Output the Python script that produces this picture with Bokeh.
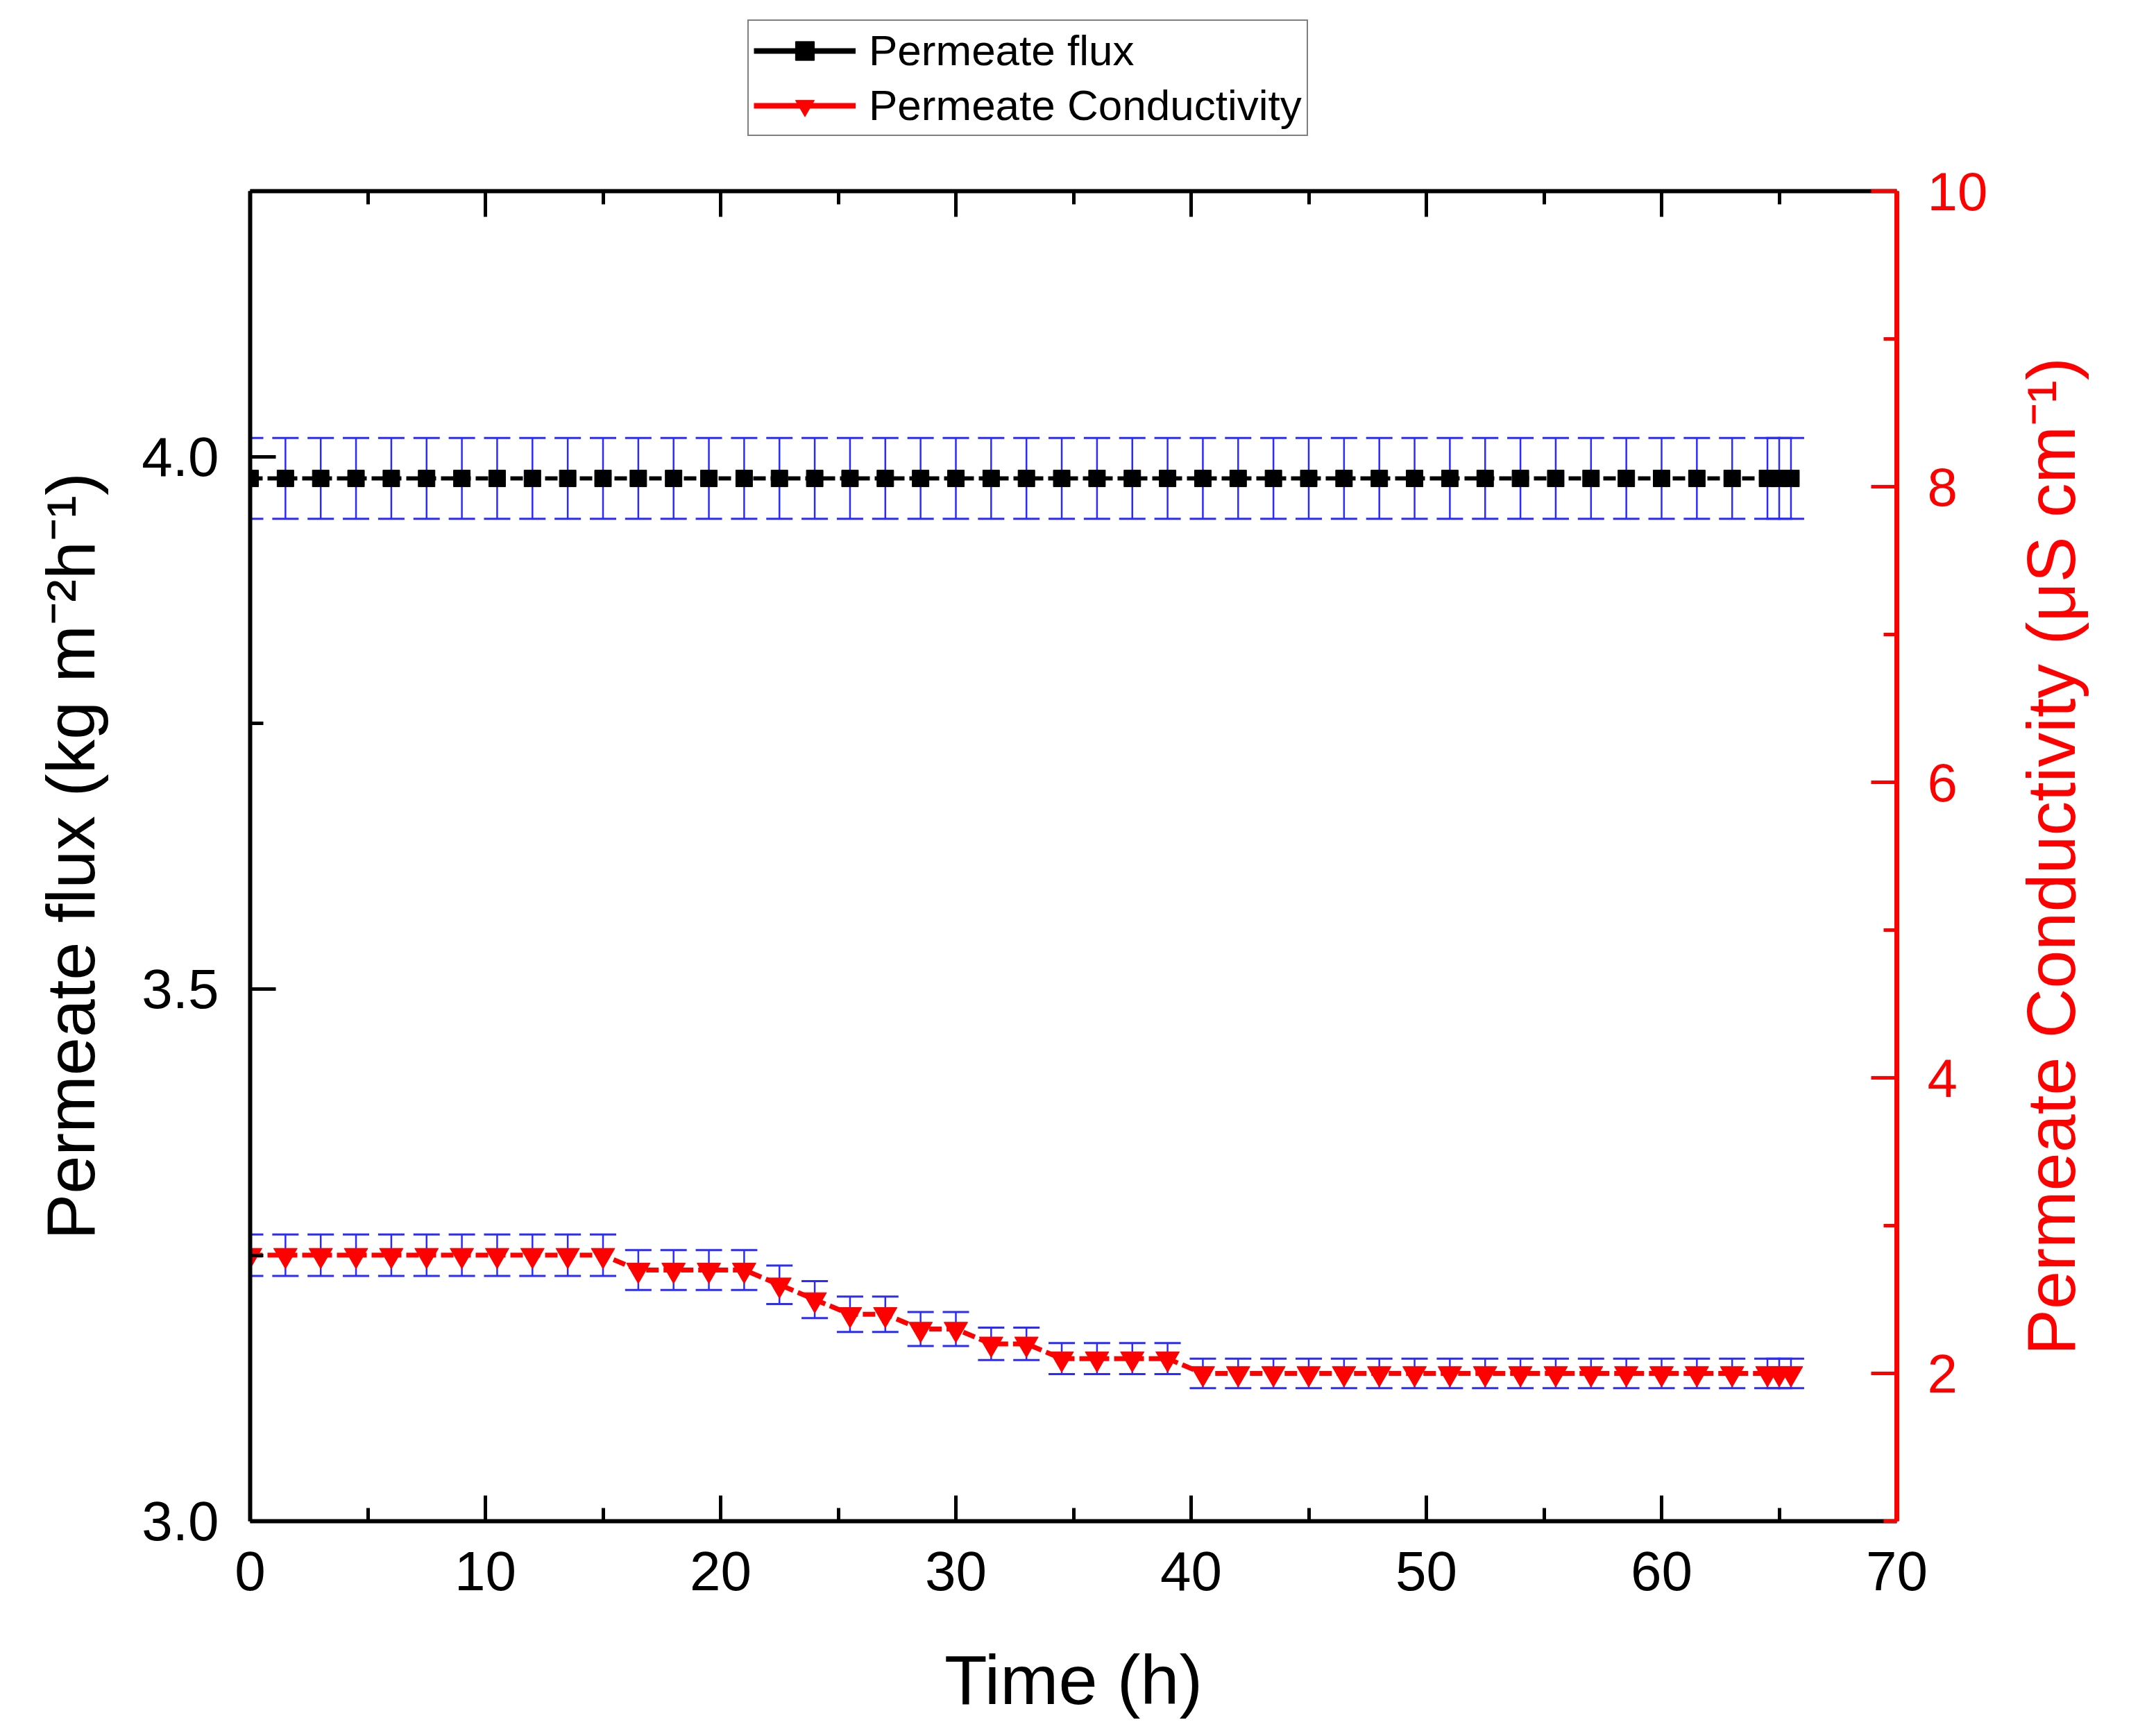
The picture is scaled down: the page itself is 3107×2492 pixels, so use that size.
import math
from bokeh.plotting import figure
from bokeh.layouts import gridplot
from bokeh.models import (Range1d, LinearAxis, FixedTicker, Legend, LegendItem,
                          NumeralTickFormatter, Label)
from bokeh.embed import file_html
from bokeh.resources import INLINE

# ---------------- data ----------------
time_h = [0, 1.5, 3, 4.5, 6, 7.5, 9, 10.5, 12, 13.5, 15, 16.5, 18, 19.5, 21, 22.5,
          24, 25.5, 27, 28.5, 30, 31.5, 33, 34.5, 36, 37.5, 39, 40.5, 42, 43.5, 45,
          46.5, 48, 49.5, 51, 52.5, 54, 55.5, 57, 58.5, 60, 61.5, 63, 64.5, 65, 65.5]

flux = [3.98, 3.98, 3.98, 3.98, 3.98, 3.98, 3.98, 3.98, 3.98, 3.98, 3.98, 3.98,
        3.98, 3.98, 3.98, 3.98, 3.98, 3.98, 3.98, 3.98, 3.98, 3.98, 3.98, 3.98,
        3.98, 3.98, 3.98, 3.98, 3.98, 3.98, 3.98, 3.98, 3.98, 3.98, 3.98, 3.98,
        3.98, 3.98, 3.98, 3.98, 3.98, 3.98, 3.98, 3.98, 3.98, 3.98]
flux_err = [0.038, 0.038, 0.038, 0.038, 0.038, 0.038, 0.038, 0.038, 0.038, 0.038,
            0.038, 0.038, 0.038, 0.038, 0.038, 0.038, 0.038, 0.038, 0.038, 0.038,
            0.038, 0.038, 0.038, 0.038, 0.038, 0.038, 0.038, 0.038, 0.038, 0.038,
            0.038, 0.038, 0.038, 0.038, 0.038, 0.038, 0.038, 0.038, 0.038, 0.038,
            0.038, 0.038, 0.038, 0.038, 0.038, 0.038]

cond = [2.8, 2.8, 2.8, 2.8, 2.8, 2.8, 2.8, 2.8, 2.8, 2.8, 2.8,
        2.7, 2.7, 2.7, 2.7,
        2.6, 2.5, 2.4, 2.4, 2.3, 2.3, 2.2, 2.2,
        2.1, 2.1, 2.1, 2.1,
        2.0, 2.0, 2.0, 2.0, 2.0, 2.0, 2.0, 2.0, 2.0, 2.0, 2.0, 2.0, 2.0, 2.0,
        2.0, 2.0, 2.0, 2.0, 2.0]
cond_err = [0.14, 0.14, 0.14, 0.14, 0.14, 0.14, 0.14, 0.14, 0.14, 0.14, 0.14,
            0.135, 0.135, 0.135, 0.135,
            0.13, 0.125, 0.12, 0.12, 0.115, 0.115, 0.11, 0.11,
            0.105, 0.105, 0.105, 0.105,
            0.10, 0.10, 0.10, 0.10, 0.10, 0.10, 0.10, 0.10, 0.10, 0.10, 0.10, 0.10,
            0.10, 0.10, 0.10, 0.10, 0.10, 0.10, 0.10]

x_major = [0, 10, 20, 30, 40, 50, 60, 70]
x_minor = [5, 15, 25, 35, 45, 55, 65]
yl_major = [3.0, 3.5, 4.0]
yl_minor = [3.25, 3.75, 4.25]
yr_major = [2, 4, 6, 8, 10]
yr_minor = [1, 3, 5, 7, 9]

FONT = "Liberation Sans"
BLUE = "#2b2bff"
RED = "#ff0000"

MAIN_W = 2880
SIDE_W = 227
LEG_H = 196          # strip above the plot that holds the legend
MAIN_H = 2492 - LEG_H
TOP_B = 275 - LEG_H  # border above the frame (inside the plot canvas)
BOT_B = 300
LEFT_B = 360
RIGHT_B = MAIN_W - 2733

p = figure(width=MAIN_W, height=MAIN_H, output_backend="svg", toolbar_location=None,
           x_range=Range1d(0, 70), y_range=Range1d(3.0, 4.25),
           min_border_left=LEFT_B, min_border_right=RIGHT_B,
           min_border_top=TOP_B, min_border_bottom=BOT_B)
p.extra_y_ranges = {"cond": Range1d(1, 10)}
p.grid.visible = False
p.outline_line_color = None
p.background_fill_color = "white"


def style_axis(ax, color="black", lw=6, label_size="80px"):
    ax.axis_line_color = color
    ax.axis_line_width = lw
    ax.major_tick_line_color = color
    ax.minor_tick_line_color = color
    ax.major_tick_line_width = 5
    ax.minor_tick_line_width = 5
    ax.major_tick_in = 37
    ax.major_tick_out = 0
    ax.minor_tick_in = 19
    ax.minor_tick_out = 0
    ax.major_label_text_font = FONT
    ax.major_label_text_font_size = label_size
    ax.major_label_text_color = color
    ax.axis_label_text_font = FONT
    ax.axis_label_text_font_size = "99px"
    ax.axis_label_text_font_style = "normal"
    ax.axis_label_text_color = color


# bottom axis
xa = p.xaxis[0]
xa.ticker = FixedTicker(ticks=x_major, minor_ticks=x_minor)
xa.axis_label = "Time (h)"
style_axis(xa)
xa.axis_label_text_font_size = "101px"
xa.major_label_standoff = 44
xa.axis_label_standoff = 70

# top mirror axis (no labels)
ta = LinearAxis(ticker=FixedTicker(ticks=x_major, minor_ticks=x_minor))
style_axis(ta)
ta.major_label_text_color = None
ta.major_label_text_font_size = "10px"
ta.major_label_standoff = 20
p.add_layout(ta, "above")

# left axis
ya = p.yaxis[0]
ya.ticker = FixedTicker(ticks=yl_major, minor_ticks=yl_minor)
ya.formatter = NumeralTickFormatter(format="0.0")
ya.axis_label = "Permeate flux (kg m\u207b\u00b2h\u207b\u00b9)"
style_axis(ya)
ya.major_label_standoff = 45
ya.axis_label_standoff = 44

# right axis (its title is drawn in the side strip)
ra = LinearAxis(y_range_name="cond", ticker=FixedTicker(ticks=yr_major, minor_ticks=yr_minor))
style_axis(ra, color=RED, lw=7, label_size="78px")
ra.major_label_standoff = 44
p.add_layout(ra, "right")

# ---------------- error bars ----------------
flux_lo = [v - e for v, e in zip(flux, flux_err)]
flux_hi = [v + e for v, e in zip(flux, flux_err)]
cond_lo = [v - e for v, e in zip(cond, cond_err)]
cond_hi = [v + e for v, e in zip(cond, cond_err)]

p.segment(x0=time_h, y0=flux_lo, x1=time_h, y1=flux_hi, line_color=BLUE, line_width=2.5)
p.scatter(time_h, flux_lo, marker="dash", size=38, line_color=BLUE, line_width=3)
p.scatter(time_h, flux_hi, marker="dash", size=38, line_color=BLUE, line_width=3)

p.segment(x0=time_h, y0=cond_lo, x1=time_h, y1=cond_hi, line_color=BLUE, line_width=2.5,
          y_range_name="cond")
p.scatter(time_h, cond_lo, marker="dash", size=38, line_color=BLUE, line_width=3,
          y_range_name="cond")
p.scatter(time_h, cond_hi, marker="dash", size=38, line_color=BLUE, line_width=3,
          y_range_name="cond")

# ---------------- series ----------------
p.line(time_h, flux, line_color="black", line_width=6, line_dash="18 7")
p.scatter(time_h, flux, marker="square", size=24, fill_color="black", line_color="black")

p.line(time_h, cond, line_color=RED, line_width=7, line_dash="18 7", y_range_name="cond")
p.scatter(time_h, cond, marker="inverted_triangle", size=34, fill_color=RED, line_color=RED,
          y_range_name="cond")

# ---------------- legend strip above the plot ----------------
lg = figure(width=MAIN_W, height=LEG_H, output_backend="svg", toolbar_location=None,
            x_range=Range1d(0, 70), y_range=Range1d(0, 1),
            x_axis_location=None, y_axis_location=None,
            min_border_left=LEFT_B, min_border_right=RIGHT_B,
            min_border_top=0, min_border_bottom=0)
lg.grid.visible = False
lg.outline_line_color = None
# the same series drawn in this strip fall outside its range: they only feed the legend
lf = lg.line(time_h, flux, line_color="black", line_width=8)
mf = lg.scatter(time_h, flux, marker="square", size=20, fill_color="black", line_color="black")
lc = lg.line(time_h, cond, line_color=RED, line_width=8)
mc = lg.scatter(time_h, cond, marker="inverted_triangle", size=26, fill_color=RED, line_color=RED)

legend = Legend(items=[LegendItem(label="Permeate flux", renderers=[lf, mf]),
                       LegendItem(label="Permeate Conductivity", renderers=[lc, mc])],
                location=(717, 0), glyph_width=147, glyph_height=68, label_height=68,
                label_text_font=FONT, label_text_font_size="62px", label_text_color="black",
                label_standoff=19, padding=7, spacing=8, margin=0,
                border_line_color="black", border_line_width=2,
                background_fill_color="white", background_fill_alpha=1.0)
lg.add_layout(legend, "center")

# ---------------- right-hand axis title strip ----------------
side = figure(width=SIDE_W, height=MAIN_H, output_backend="svg", toolbar_location=None,
              x_range=Range1d(0, SIDE_W), y_range=Range1d(0, 1),
              x_axis_location=None, y_axis_location=None,
              min_border_left=0, min_border_right=0,
              min_border_top=TOP_B, min_border_bottom=BOT_B)
side.grid.visible = False
side.outline_line_color = None
side.add_layout(Label(x=2899 - MAIN_W, y=0.5,
                      text="Permeate Conductivity (\u03bcS cm\u207b\u00b9)",
                      angle=math.pi / 2, text_align="center", text_baseline="top",
                      text_font=FONT, text_font_size="99px", text_color=RED))

layout = gridplot([[lg, None], [p, side]], toolbar_location=None)
open("out.html", "w").write(file_html(layout, INLINE))
